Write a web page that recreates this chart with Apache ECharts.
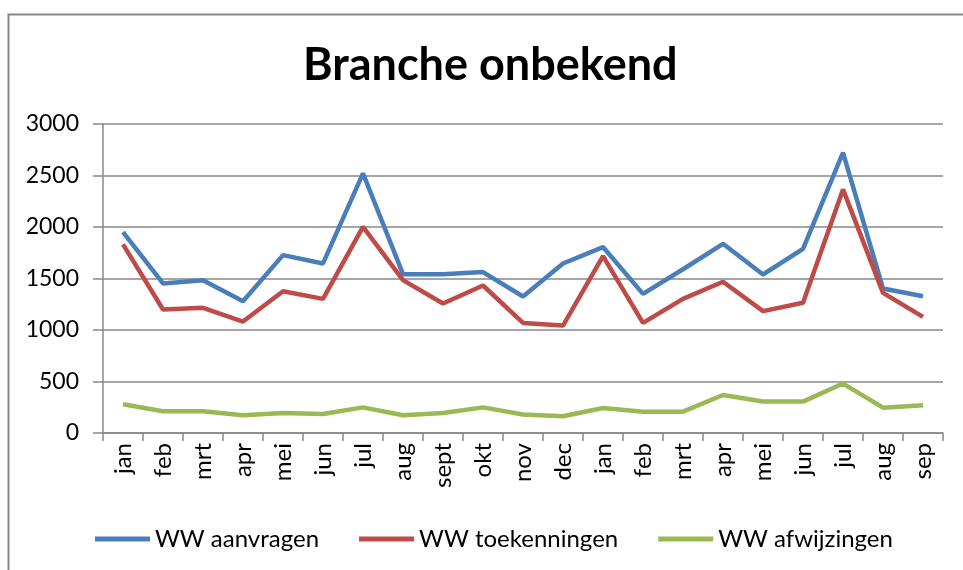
<!DOCTYPE html>
<html>
<head>
<meta charset="utf-8">
<script src="https://cdn.jsdelivr.net/npm/echarts@6/dist/echarts.min.js"></script>
<style>
html,body{margin:0;padding:0;background:#fff;}
#c{width:963px;height:570px;}
</style>
</head>
<body>
<div id="c"></div>
<script>
const categories = ['jan','feb','mrt','apr','mei','jun','jul','aug','sept','okt','nov','dec','jan','feb','mrt','apr','mei','jun','jul','aug','sep'];
const aanvragen = [1950,1452,1484,1280,1727,1646,2521,1542,1542,1562,1325,1646,1805,1351,1590,1837,1539,1788,2722,1403,1328];
const toekenningen = [1831,1199,1215,1082,1377,1302,2002,1484,1257,1432,1069,1043,1717,1069,1302,1468,1183,1264,2365,1361,1128];
const afwijzingen = [279,211,211,172,194,185,249,172,194,249,180,162,243,207,207,369,305,305,480,246,269];
const yTicks = {min:0, max:3000, interval:500};

const FONT = 'Lato';
const chart = echarts.init(document.getElementById('c'), null, {renderer:'canvas'});
chart.setOption({
  animation:false,
  backgroundColor:'#ffffff',
  textStyle:{fontFamily:FONT},
  title:{
    text:'Branche onbekend',
    left:298, top:38,
    textStyle:{fontFamily:FONT, fontWeight:'bold', fontSize:45, color:'#000'}
  },
  graphic:[{
    type:'rect', left:6, top:12, silent:true,
    shape:{width:1000, height:600},
    style:{fill:'none', stroke:'#878787', lineWidth:2}
  }],
  legend:{
    bottom:14, left:90,
    icon:'rect', itemWidth:55, itemHeight:5, itemGap:40,
    textStyle:{fontFamily:FONT, fontSize:24, color:'#000'},
    data:['WW aanvragen','WW toekenningen','WW afwijzingen']
  },
  grid:{left:103, right:20, top:124, bottom:137, containLabel:false},
  xAxis:{
    type:'category', data:categories, boundaryGap:true,
    axisLine:{lineStyle:{color:'#888', width:1.5}},
    axisTick:{show:true, interval:0, length:8, lineStyle:{color:'#888', width:1.5}},
    axisLabel:{interval:0, rotate:90, margin:10, fontFamily:FONT, fontSize:24, color:'#000'}
  },
  yAxis:{
    type:'value', min:yTicks.min, max:yTicks.max, interval:yTicks.interval,
    axisLine:{show:true, lineStyle:{color:'#888', width:1.5}},
    axisTick:{show:true, length:10, lineStyle:{color:'#888', width:1.5}},
    splitLine:{lineStyle:{color:'#888', width:1.5}},
    axisLabel:{margin:24, fontFamily:FONT, fontSize:23, color:'#000', formatter:function(v){return String(v);}}
  },
  series:[
    {name:'WW aanvragen', type:'line', data:aanvragen, symbol:'none', color:'#4A7EBB', lineStyle:{width:4.5, color:'#4A7EBB'}},
    {name:'WW toekenningen', type:'line', data:toekenningen, symbol:'none', color:'#BE4B48', lineStyle:{width:4.5, color:'#BE4B48'}},
    {name:'WW afwijzingen', type:'line', data:afwijzingen, symbol:'none', color:'#98B954', lineStyle:{width:4.5, color:'#98B954'}}
  ]
});
</script>
</body>
</html>
